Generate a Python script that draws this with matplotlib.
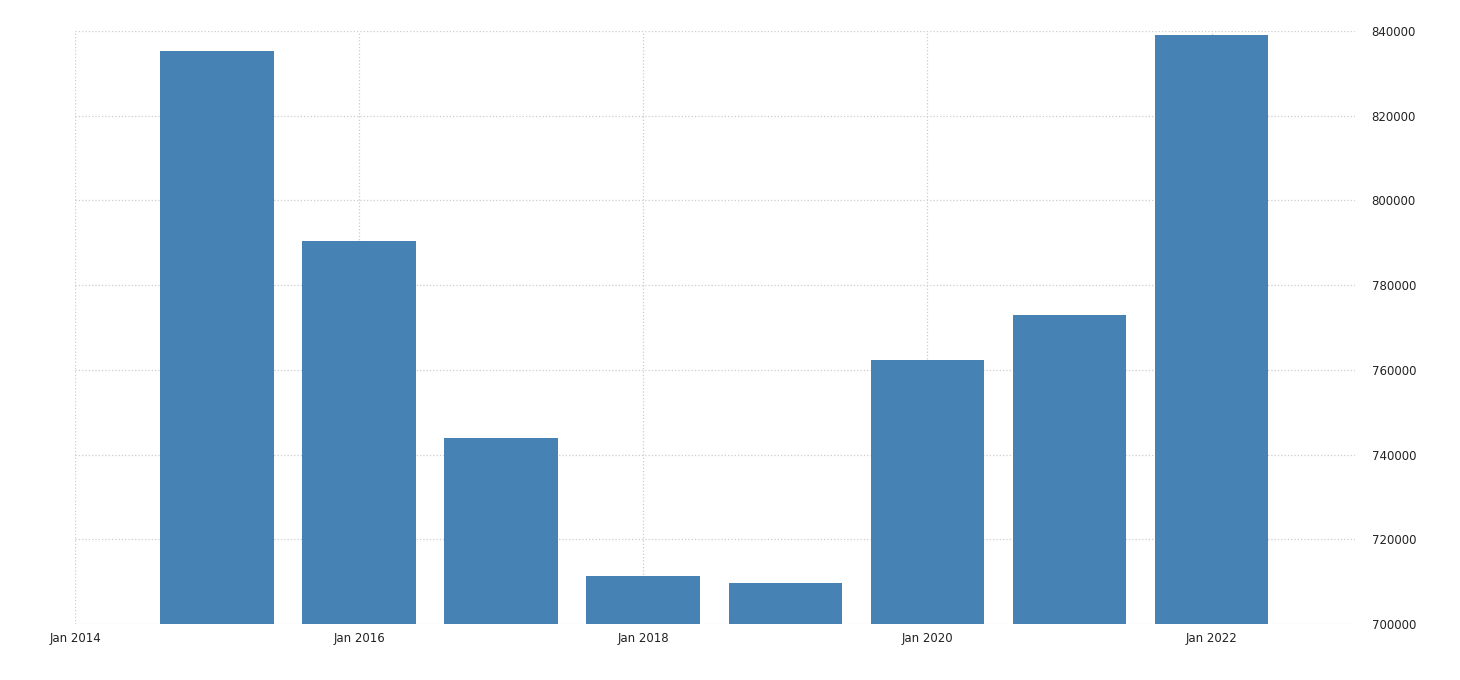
import matplotlib
matplotlib.use("Agg")
import matplotlib.pyplot as plt

years = [2015, 2016, 2017, 2018, 2019, 2020, 2021, 2022]
values = [835300, 790400, 743900, 711300, 709700, 762300, 773000, 839100]
xticks = [2014, 2016, 2018, 2020, 2022]
xlabels = ["Jan 2014", "Jan 2016", "Jan 2018", "Jan 2020", "Jan 2022"]
yticks = [700000, 720000, 740000, 760000, 780000, 800000, 820000, 840000]

fig = plt.figure(figsize=(14.6, 6.8), dpi=100)
ax = fig.add_axes([0.0514, 0.0824, 0.8767, 0.8721])
ax.bar(years, [v - 700000 for v in values], bottom=700000, width=0.8,
       color="#4682b4", zorder=2)
ax.set_xlim(2014, 2023.01)
ax.set_ylim(700000, 840000)
ax.set_xticks(xticks)
ax.set_xticklabels(xlabels)
ax.set_yticks(yticks)
ax.set_yticklabels([str(v) for v in yticks])
ax.yaxis.tick_right()
ax.grid(True, color="#cccccc", linestyle=":", linewidth=0.9, zorder=0)
for s in ax.spines.values():
    s.set_visible(False)
ax.tick_params(length=0, labelsize=8.5, colors="#222222", pad=6)
ax.tick_params(axis="y", pad=12)
fig.savefig("out.png", dpi=100)
